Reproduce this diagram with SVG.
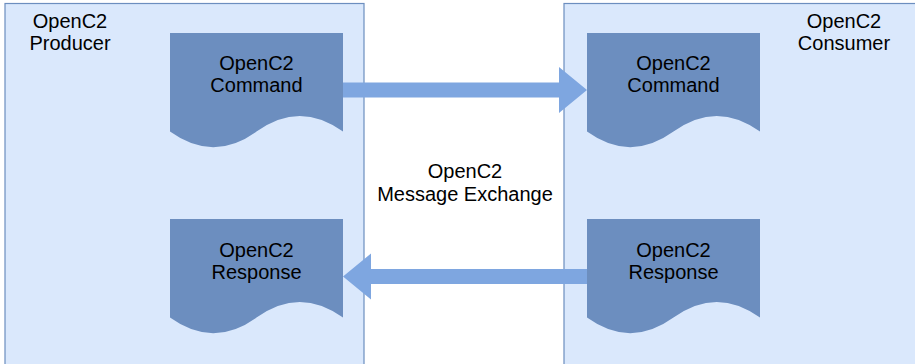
<svg xmlns="http://www.w3.org/2000/svg" width="915" height="364" viewBox="0 0 915 364">
<defs>
<style>
.container{fill:#dae8fc;stroke:#6c8ebf;stroke-width:1.2}
.doc{fill:#6c8ebf;stroke:none}
.arrow{fill:#7ea6e0;stroke:none}
text{font-family:"Liberation Sans",Arial,sans-serif;font-size:20px;fill:#000;text-anchor:middle}
</style>
<path id="docShape" d="M0,0 H173 V98.6 Q129.75,67.3 86.5,98.6 Q43.25,129.9 0,98.6 Z"/>
</defs>
<rect width="915" height="364" fill="#fff"/>
<g id="producer">
<rect class="container" x="5" y="3.5" width="359" height="370"/>
<text x="70" y="28">OpenC2</text>
<text x="70" y="50">Producer</text>
</g>
<g id="consumer">
<rect class="container" x="564" y="3.5" width="360" height="370"/>
<text x="844" y="28">OpenC2</text>
<text x="844" y="50">Consumer</text>
</g>
<g id="exchange-label">
<text x="465" y="178">OpenC2</text>
<text x="465" y="201">Message Exchange</text>
</g>
<g id="producer-command">
<use href="#docShape" class="doc" transform="translate(170,33)"/>
<text x="256.5" y="70">OpenC2</text>
<text x="256.5" y="92">Command</text>
</g>
<g id="consumer-command">
<use href="#docShape" class="doc" transform="translate(587,33)"/>
<text x="673.5" y="70">OpenC2</text>
<text x="673.5" y="92">Command</text>
</g>
<g id="producer-response">
<use href="#docShape" class="doc" transform="translate(170,219)"/>
<text x="256.5" y="257">OpenC2</text>
<text x="256.5" y="279">Response</text>
</g>
<g id="consumer-response">
<use href="#docShape" class="doc" transform="translate(587,219)"/>
<text x="673.5" y="257">OpenC2</text>
<text x="673.5" y="279">Response</text>
</g>
<g id="connectors">
<path class="arrow" d="M343,82.5 H559 V67 L587,90 L559,113 V97.5 H343 Z"/>
<path class="arrow" d="M587,269 H371 V253.5 L343,276.5 L371,299.5 V284 H587 Z"/>
</g>
</svg>
